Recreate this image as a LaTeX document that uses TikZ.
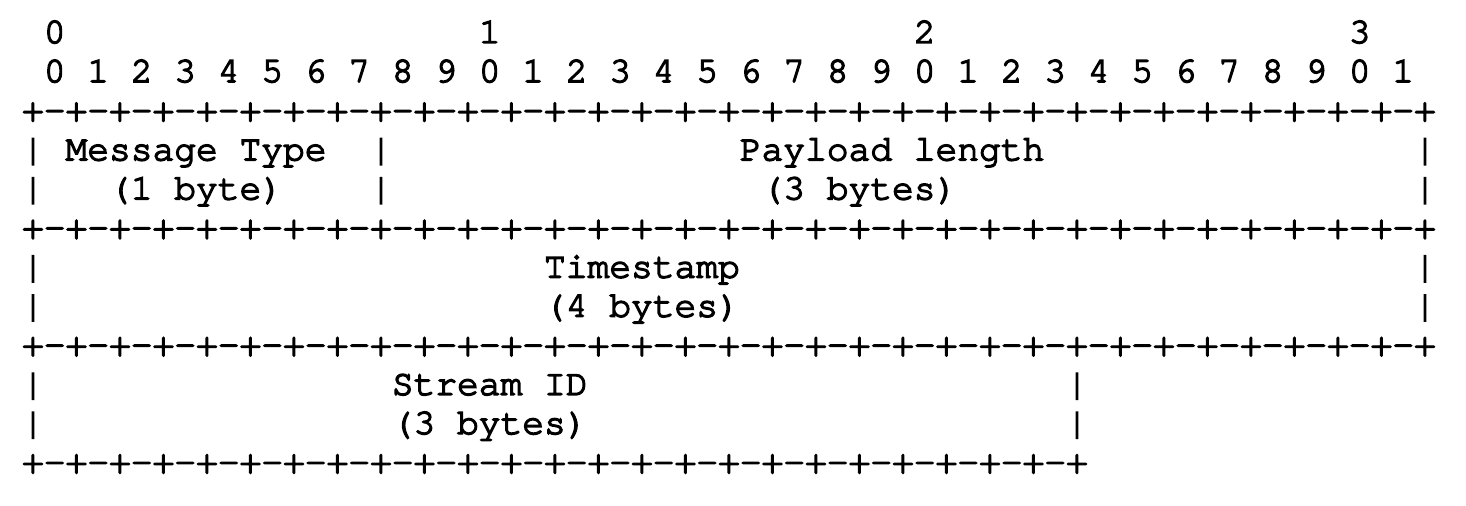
\documentclass[tikz,border=0pt]{standalone}
\usepackage{fontspec}
\usepackage{tikz}
\newfontfamily\rfcfont{texgyrecursor}[Extension=.otf, UprightFont=*-regular, UprightFeatures={FakeBold=4}]
\newcommand\rfc{\rfcfont\fontsize{36.25pt}{39.1pt}\selectfont}

\begin{document}
\begin{tikzpicture}
[ x=21.75pt, y=-39.1pt
, ascii/.style={anchor=base west, inner sep=0pt, outer sep=0pt, font=\rfc}
, rule/.style={ascii}
, bar/.style={ascii}
, field/.style={ascii}
]
\useasboundingbox (-1.016,-1.0997) rectangle (66.386,11.841);
% Bit numbers:
\node (ten0) [ascii] at (1,0) {0};
\node (ten1) [ascii] at (21,0) {1};
\node (ten2) [ascii] at (41,0) {2};
\node (ten3) [ascii] at (61,0) {3};
\node (bits) [ascii] at (1,1) {0 1 2 3 4 5 6 7 8 9 0 1 2 3 4 5 6 7 8 9 0 1 2 3 4 5 6 7 8 9 0 1};
% First word:
\node (rule0) [rule] at (0,2) {+-+-+-+-+-+-+-+-+-+-+-+-+-+-+-+-+-+-+-+-+-+-+-+-+-+-+-+-+-+-+-+-+};
\node (bar0a) [bar] at (0,3) {|};
\node (msgtype) [field] at (2,3) {Message Type};
\node (bar0b) [bar] at (16,3) {|};
\node (paylen) [field] at (33,3) {Payload length};
\node (bar0c) [bar] at (64,3) {|};
\node (bar1a) [bar] at (0,4) {|};
\node (msgsize) [field] at (4,4) {(1 byte)};
\node (bar1b) [bar] at (16,4) {|};
\node (paysize) [field] at (34,4) {(3 bytes)};
\node (bar1c) [bar] at (64,4) {|};
\node (rule1) [rule] at (0,5) {+-+-+-+-+-+-+-+-+-+-+-+-+-+-+-+-+-+-+-+-+-+-+-+-+-+-+-+-+-+-+-+-+};
% Second word:
\node (bar2a) [bar] at (0,6) {|};
\node (timestamp) [field] at (24,6) {Timestamp};
\node (bar2b) [bar] at (64,6) {|};
\node (bar3a) [bar] at (0,7) {|};
\node (tssize) [field] at (24,7) {(4 bytes)};
\node (bar3b) [bar] at (64,7) {|};
\node (rule2) [rule] at (0,8) {+-+-+-+-+-+-+-+-+-+-+-+-+-+-+-+-+-+-+-+-+-+-+-+-+-+-+-+-+-+-+-+-+};
% Third word:
\node (bar4a) [bar] at (0,9) {|};
\node (streamid) [field] at (17,9) {Stream ID};
\node (bar4b) [bar] at (48,9) {|};
\node (bar5a) [bar] at (0,10) {|};
\node (sidsize) [field] at (17,10) {(3 bytes)};
\node (bar5b) [bar] at (48,10) {|};
\node (rule3) [rule] at (0,11) {+-+-+-+-+-+-+-+-+-+-+-+-+-+-+-+-+-+-+-+-+-+-+-+-+};
\end{tikzpicture}
\end{document}
